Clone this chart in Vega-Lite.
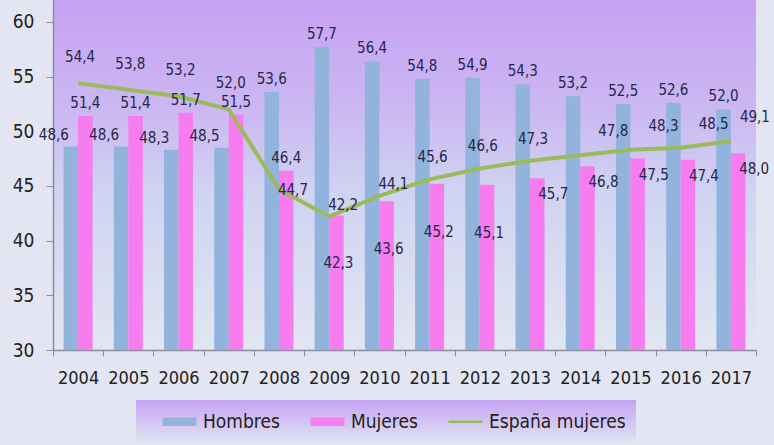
{
  "$schema": "https://vega.github.io/schema/vega-lite/v6.json",
  "width": 703,
  "height": 350,
  "autosize": "none",
  "padding": {"left": 53, "top": 0, "right": 18, "bottom": 95},
  "background": "#e3e5f2",
  "view": {
    "stroke": null,
    "fill": {"gradient": "linear", "x1": 0, "y1": 0, "x2": 0, "y2": 1,
      "stops": [
        {"offset": 0, "color": "#c7a2f3"},
        {"offset": 0.3, "color": "#cbb6f2"},
        {"offset": 0.55, "color": "#d0d3f1"},
        {"offset": 1, "color": "#e1e6f2"}
      ]}
  },
  "config": {
    "locale": {"number": {"decimal": ",", "thousands": ".", "grouping": [3], "currency": ["", " €"]}},
    "font": "DejaVu Sans Condensed, Liberation Sans Narrow, DejaVu Sans",
    "text": {"font": "DejaVu Sans Condensed, Liberation Sans Narrow, DejaVu Sans", "fontSize": 15, "color": "#26264a", "baseline": "middle"}
  },
  "data": {
    "values": [
      {"year": "2004", "series": "Hombres", "value": 48.6},
      {"year": "2005", "series": "Hombres", "value": 48.6},
      {"year": "2006", "series": "Hombres", "value": 48.3},
      {"year": "2007", "series": "Hombres", "value": 48.5},
      {"year": "2008", "series": "Hombres", "value": 53.6},
      {"year": "2009", "series": "Hombres", "value": 57.7},
      {"year": "2010", "series": "Hombres", "value": 56.4},
      {"year": "2011", "series": "Hombres", "value": 54.8},
      {"year": "2012", "series": "Hombres", "value": 54.9},
      {"year": "2013", "series": "Hombres", "value": 54.3},
      {"year": "2014", "series": "Hombres", "value": 53.2},
      {"year": "2015", "series": "Hombres", "value": 52.5},
      {"year": "2016", "series": "Hombres", "value": 52.6},
      {"year": "2017", "series": "Hombres", "value": 52.0},
      {"year": "2004", "series": "Mujeres", "value": 51.4},
      {"year": "2005", "series": "Mujeres", "value": 51.4},
      {"year": "2006", "series": "Mujeres", "value": 51.7},
      {"year": "2007", "series": "Mujeres", "value": 51.5},
      {"year": "2008", "series": "Mujeres", "value": 46.4},
      {"year": "2009", "series": "Mujeres", "value": 42.3},
      {"year": "2010", "series": "Mujeres", "value": 43.6},
      {"year": "2011", "series": "Mujeres", "value": 45.2},
      {"year": "2012", "series": "Mujeres", "value": 45.1},
      {"year": "2013", "series": "Mujeres", "value": 45.7},
      {"year": "2014", "series": "Mujeres", "value": 46.8},
      {"year": "2015", "series": "Mujeres", "value": 47.5},
      {"year": "2016", "series": "Mujeres", "value": 47.4},
      {"year": "2017", "series": "Mujeres", "value": 48.0},
      {"year": "2004", "series": "España mujeres", "value": 54.4},
      {"year": "2005", "series": "España mujeres", "value": 53.8},
      {"year": "2006", "series": "España mujeres", "value": 53.2},
      {"year": "2007", "series": "España mujeres", "value": 52.0},
      {"year": "2008", "series": "España mujeres", "value": 44.7},
      {"year": "2009", "series": "España mujeres", "value": 42.2},
      {"year": "2010", "series": "España mujeres", "value": 44.1},
      {"year": "2011", "series": "España mujeres", "value": 45.6},
      {"year": "2012", "series": "España mujeres", "value": 46.6},
      {"year": "2013", "series": "España mujeres", "value": 47.3},
      {"year": "2014", "series": "España mujeres", "value": 47.8},
      {"year": "2015", "series": "España mujeres", "value": 48.3},
      {"year": "2016", "series": "España mujeres", "value": 48.5},
      {"year": "2017", "series": "España mujeres", "value": 49.1}
    ]
  },
  "encoding": {
    "x": {
      "field": "year", "type": "nominal",
      "scale": {"paddingInner": 0, "paddingOuter": 0},
      "axis": {
        "title": null, "labelAngle": 0, "tickBand": "extent",
        "labelFont": "DejaVu Sans Condensed, Liberation Sans Narrow, DejaVu Sans",
        "labelFontSize": 18, "labelColor": "#222222", "labelPadding": 13,
        "tickSize": 6, "tickColor": "#8c8c9c", "domainColor": "#8c8c9c", "domainWidth": 1.5
      }
    },
    "y": {
      "field": "value", "type": "quantitative",
      "scale": {"domain": [30, 62], "nice": false, "zero": false},
      "axis": {
        "title": null, "grid": false, "values": [30, 35, 40, 45, 50, 55, 60],
        "labelFont": "DejaVu Sans Condensed, Liberation Sans Narrow, DejaVu Sans",
        "labelFontSize": 19, "labelColor": "#222222", "labelPadding": 12,
        "tickSize": 7, "tickColor": "#8c8c9c", "domainColor": "#8c8c9c", "domainWidth": 1.5
      }
    }
  },
  "layer": [
    {
      "transform": [{"filter": "datum.series !== 'España mujeres'"}],
      "mark": {"type": "bar"},
      "encoding": {
        "xOffset": {"field": "series", "type": "nominal",
          "scale": {"domain": ["Hombres", "Mujeres"], "paddingInner": 0, "paddingOuter": 0.73}},
        "y2": {"datum": 30},
        "color": {
          "field": "series", "type": "nominal",
          "scale": {"domain": ["Hombres", "Mujeres", "España mujeres"], "range": ["#92b4dc", "#f77cf0", "#9bbb59"]},
          "legend": {
            "orient": "none", "legendX": 83, "legendY": 400, "direction": "horizontal",
            "title": null, "padding": 10, "symbolSize": 400, "symbolType": "M-1.7,-0.42H1.7V0.42H-1.7Z",
            "symbolOffset": 22,
            "labelFont": "DejaVu Sans Condensed, Liberation Sans Narrow, DejaVu Sans",
            "labelFontSize": 19, "labelColor": "#222222", "labelOffset": 12, "columnPadding": 14,
            "symbolOpacity": 1,
            "encode": {
              "symbols": {"update": {
                "shape": {"signal": "datum.value === 'España mujeres' ? 'M-1.7,0H1.7' : 'M-1.7,-0.42H1.7V0.42H-1.7Z'"},
                "fill": {"signal": "datum.value === 'España mujeres' ? 'transparent' : scale('color', datum.value)"},
                "stroke": {"signal": "datum.value === 'España mujeres' ? '#9bbb59' : 'transparent'"},
                "strokeWidth": {"value": 2.5},
                "opacity": {"value": 1}
              }},
              "legend": {"update": {
                "fill": {"value": {"gradient": "linear", "x1": 0, "y1": 0, "x2": 0, "y2": 1,
                  "stops": [{"offset": 0, "color": "#c6a4f5"}, {"offset": 1, "color": "#dfe3f1"}]}}
              }}
            }
          }
        }
      }
    },
    {
      "transform": [{"filter": "datum.series === 'España mujeres'"}],
      "mark": {"type": "line", "color": "#9bbb59", "strokeWidth": 4, "interpolate": "linear"},
      "encoding": {}
    },
    {
      "transform": [{"filter": "datum.series === 'Hombres' && datum.year <= '2007'"}],
      "mark": {"type": "text", "dx": -17, "dy": -12},
      "encoding": {
        "xOffset": {"field": "series", "type": "nominal"},
        "text": {"field": "value", "type": "quantitative", "format": ".1f"}
      }
    },
    {
      "transform": [{"filter": "datum.series === 'Hombres' && datum.year >= '2008'"}],
      "mark": {"type": "text", "dy": -13},
      "encoding": {
        "xOffset": {"field": "series", "type": "nominal"},
        "text": {"field": "value", "type": "quantitative", "format": ".1f"}
      }
    },
    {
      "transform": [{"filter": "datum.series === 'Mujeres' && datum.year <= '2008'"}],
      "mark": {"type": "text", "dy": -13},
      "encoding": {
        "xOffset": {"field": "series", "type": "nominal"},
        "text": {"field": "value", "type": "quantitative", "format": ".1f"}
      }
    },
    {
      "transform": [{"filter": "datum.series === 'Mujeres' && datum.year >= '2009' && datum.year <= '2012'"}],
      "mark": {"type": "text", "dx": 2, "dy": 48},
      "encoding": {
        "xOffset": {"field": "series", "type": "nominal"},
        "text": {"field": "value", "type": "quantitative", "format": ".1f"}
      }
    },
    {
      "transform": [{"filter": "datum.series === 'Mujeres' && datum.year >= '2013'"}],
      "mark": {"type": "text", "dx": 16, "dy": 16},
      "encoding": {
        "xOffset": {"field": "series", "type": "nominal"},
        "text": {"field": "value", "type": "quantitative", "format": ".1f"}
      }
    },
    {
      "transform": [{"filter": "datum.series === 'España mujeres' && datum.year <= '2007'"}],
      "mark": {"type": "text", "dx": 2, "dy": -26},
      "encoding": {"text": {"field": "value", "type": "quantitative", "format": ".1f"}}
    },
    {
      "transform": [{"filter": "datum.series === 'España mujeres' && datum.year >= '2011' && datum.year <= '2013'"}],
      "mark": {"type": "text", "dx": 3, "dy": -22},
      "encoding": {"text": {"field": "value", "type": "quantitative", "format": ".1f"}}
    },
    {
      "transform": [{"filter": "datum.series === 'España mujeres' && datum.year === '2008'"}],
      "mark": {"type": "text", "dx": 14, "dy": 1},
      "encoding": {"text": {"field": "value", "type": "quantitative", "format": ".1f"}}
    },
    {
      "transform": [{"filter": "datum.series === 'España mujeres' && (datum.year === '2009' || datum.year === '2010')"}],
      "mark": {"type": "text", "dx": 14, "dy": -12},
      "encoding": {"text": {"field": "value", "type": "quantitative", "format": ".1f"}}
    },
    {
      "transform": [{"filter": "datum.series === 'España mujeres' && datum.year >= '2014' && datum.year <= '2016'"}],
      "mark": {"type": "text", "dx": 33, "dy": -24},
      "encoding": {"text": {"field": "value", "type": "quantitative", "format": ".1f"}}
    },
    {
      "transform": [{"filter": "datum.series === 'España mujeres' && datum.year === '2017'"}],
      "mark": {"type": "text", "dx": 24, "dy": -24},
      "encoding": {"text": {"field": "value", "type": "quantitative", "format": ".1f"}}
    }
  ]
}
